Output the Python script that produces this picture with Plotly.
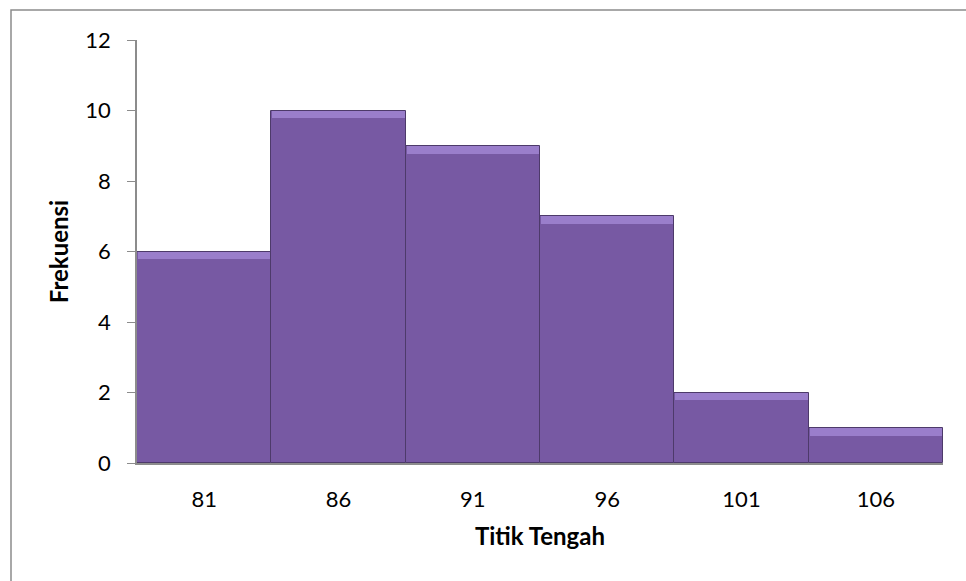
import plotly.graph_objects as go

categories = ["81", "86", "91", "96", "101", "106"]
frequencies = [6, 10, 9, 7, 2, 1]
y_ticks = [0, 2, 4, 6, 8, 10, 12]

W, H = 966, 581
L, R, T, B = 137, 23, 40, 118
pw, ph = W - L - R, H - T - B

def px_x(x):
    return (x - L) / pw

def px_y(y):
    return (H - B - y) / ph

bevel = 0.22

fig = go.Figure()
fig.add_trace(go.Bar(
    x=categories, y=frequencies,
    marker=dict(color="#7759A3", line=dict(color="#4D3A6A", width=1)),
    width=1.0,
))
# top bevel highlight strip
fig.add_trace(go.Bar(
    x=categories, y=[bevel] * len(frequencies),
    base=[v - bevel for v in frequencies],
    marker=dict(color="#9A7ECB", line=dict(width=0)),
    width=0.985,
    hoverinfo="skip",
))
fig.update_layout(
    width=W, height=H,
    margin=dict(l=L, r=R, t=T, b=B),
    paper_bgcolor="white", plot_bgcolor="white",
    showlegend=False, barmode="overlay", bargap=0,
    font=dict(family="Lato, Open Sans, sans-serif", size=22, color="#000000"),
    xaxis=dict(
        showline=True, linecolor="#8C8C8C", linewidth=1.5,
        ticks="", showgrid=False, zeroline=False,
        title=dict(text="<b>Titik Tengah</b>", font=dict(size=24), standoff=17),
        ticklabelstandoff=16,
    ),
    yaxis=dict(
        range=[0, 12], tickvals=y_ticks, showline=True, linecolor="#8C8C8C", linewidth=1.5,
        ticks="outside", ticklen=8, tickcolor="#8C8C8C", showgrid=False, zeroline=False,
        title=dict(text="<b>Frekuensi</b>", font=dict(size=24), standoff=10),
        ticklabelstandoff=12,
    ),
    shapes=[dict(
        type="rect", xref="paper", yref="paper",
        x0=px_x(11), x1=px_x(W + 10), y0=px_y(H + 10), y1=px_y(10),
        line=dict(color="#8C8C8C", width=1.5), fillcolor="rgba(0,0,0,0)", layer="below",
    )],
)
fig.write_html("out.html")
